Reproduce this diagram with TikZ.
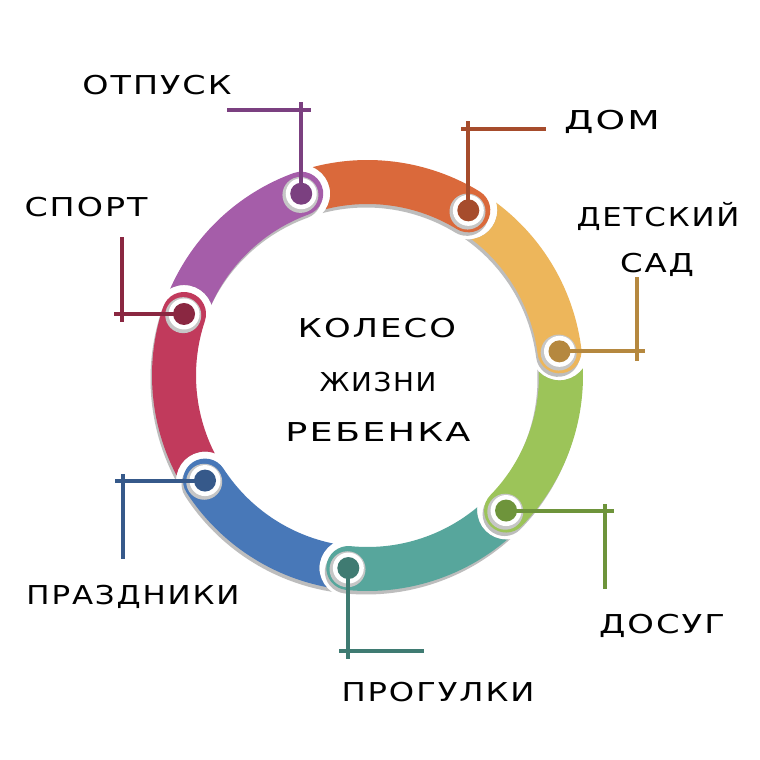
\documentclass[tikz,border=0pt]{standalone}
\usepackage{fontspec}
\usepackage{graphicx}
\setmainfont{DejaVu Sans}
\newfontfamily\labfont[LetterSpace=6]{DejaVu Sans}
\usetikzlibrary{calc}
\definecolor{cOr}{HTML}{DA693B}\definecolor{dOr}{HTML}{A64C2C}
\definecolor{cGo}{HTML}{EDB65B}\definecolor{dGo}{HTML}{B5883F}
\definecolor{cGr}{HTML}{9CC459}\definecolor{dGr}{HTML}{6E943B}
\definecolor{cTe}{HTML}{57A69C}\definecolor{dTe}{HTML}{3F7B72}
\definecolor{cBl}{HTML}{4878B8}\definecolor{dBl}{HTML}{36598A}
\definecolor{cCr}{HTML}{C13A5C}\definecolor{dCr}{HTML}{8A2741}
\definecolor{cPu}{HTML}{A55DA9}\definecolor{dPu}{HTML}{7B4080}
\definecolor{shd}{HTML}{BDBDBD}
\definecolor{ringgray}{HTML}{C6C6C6}
\tikzset{
  dotnode/.style={circle, inner sep=0pt, minimum size=22pt},
  conn/.style={line width=4pt},
  lab/.style={inner sep=0pt, text height=19pt, text depth=0pt,
    font=\labfont\fontsize{26}{30}\selectfont, text=black},
}
\newcommand\lbl[2]{\resizebox{#1}{\height}{#2}}
\begin{document}
\begin{tikzpicture}[x=1pt,y=-1pt]
\useasboundingbox (0,0) rectangle (760,760);
\fill[white] (0,0) rectangle (760,760);
\coordinate (C) at (367.5,375.5);
% bands
\foreach \k/\col in {0/cOr,1/cGo,2/cGr,3/cTe,4/cBl,5/cCr,6/cPu} {
  \pgfmathsetmacro\b{-58.6+\k*51.4286}
  \pgfmathsetmacro\a{\b-51.4286}
  \begin{scope}
    \clip (-10,-10) -- (770,-10) -- (770,770) -- (-10,770) -- cycle
          ([shift={(396.5,375.5)}]\a:193.5) arc[start angle=0, end angle=-360, radius=29];
    \fill[shd] ([shift={(366,379)}]\a:215.5)
       arc[start angle=\a, end angle=\b, radius=215.5]
       arc[start angle=\b, end angle={\b+180}, radius=22]
       arc[start angle=\b, end angle=\a, radius=171.5] -- cycle;
    \fill[\col] ([shift={(367.5,375.5)}]\a:215.5)
       arc[start angle=\a, end angle=\b, radius=215.5]
       arc[start angle=\b, end angle={\b+180}, radius=22]
       arc[start angle=\b, end angle=\a, radius=171.5] -- cycle;
  \end{scope}
}
% head rings and dots
\foreach \k/\col in {0/dOr,1/dGo,2/dGr,3/dTe,4/dBl,5/dCr,6/dPu} {
  \pgfmathsetmacro\b{-58.6+\k*51.4286}
  \coordinate (P\k) at ([shift={(367.5,375.5)}]\b:193.5);
  \fill[ringgray] ([shift={(366.7,376.7)}]\b:193.5) circle[radius=18];
  \fill[white] (P\k) circle[radius=15.5];
  \node[dotnode, fill=\col] (d\k) at (P\k) {};
}
% connector end points
\coordinate (e0) at (469,121); \coordinate (h0a) at (461,129); \coordinate (h0b) at (546,129);
\coordinate (e1) at (645,352); \coordinate (v1a) at (637,277); \coordinate (v1b) at (637,361);
\coordinate (e2) at (614,513); \coordinate (v2a) at (605,504); \coordinate (v2b) at (605,589);
\coordinate (e3) at (347,659); \coordinate (h3a) at (339,651); \coordinate (h3b) at (424,651);
\coordinate (e4) at (115,483); \coordinate (v4a) at (123,474); \coordinate (v4b) at (123,559);
\coordinate (e5) at (114,312); \coordinate (v5a) at (122,237); \coordinate (v5b) at (122,322);
\coordinate (e6) at (303,102); \coordinate (h6a) at (227,110); \coordinate (h6b) at (311,110);
% connectors
\draw[conn, dOr] (d0.center) -- (d0.center |- e0);
\draw[conn, dOr] (h0a) -- (h0b);
\draw[conn, dGo] (d1.center) -- (d1.center -| e1);
\draw[conn, dGo] (v1a) -- (v1b);
\draw[conn, dGr] (d2.center) -- (d2.center -| e2);
\draw[conn, dGr] (v2a) -- (v2b);
\draw[conn, dTe] (d3.center) -- (d3.center |- e3);
\draw[conn, dTe] (h3a) -- (h3b);
\draw[conn, dBl] (d4.center) -- (d4.center -| e4);
\draw[conn, dBl] (v4a) -- (v4b);
\draw[conn, dCr] (d5.center) -- (d5.center -| e5);
\draw[conn, dCr] (v5a) -- (v5b);
\draw[conn, dPu] (d6.center) -- (d6.center |- e6);
\draw[conn, dPu] (h6a) -- (h6b);
% labels
\node[lab] (t0) at (612,120) {\lbl{96pt}{ДОМ}};
\node[lab] (t1a) at (658,217) {\lbl{163pt}{ДЕТСКИЙ}};
\node[lab] (t1b) at (657,263) {\lbl{74pt}{САД}};
\node[lab] (t2) at (662,624) {\lbl{126pt}{ДОСУГ}};
\node[lab] (t3) at (438,692) {\lbl{193pt}{ПРОГУЛКИ}};
\node[lab] (t4) at (133,595) {\lbl{213pt}{ПРАЗДНИКИ}};
\node[lab] (t5) at (86,207) {\lbl{123pt}{СПОРТ}};
\node[lab] (t6) at (157,85) {\lbl{149pt}{ОТПУСК}};
\node[lab] (m1) at (377,328) {\lbl{158pt}{КОЛЕСО}};
\node[lab] (m2) at (378,382) {\lbl{117pt}{ЖИЗНИ}};
\node[lab] (m3) at (378,432) {\lbl{185pt}{РЕБЕНКА}};
\end{tikzpicture}
\end{document}
